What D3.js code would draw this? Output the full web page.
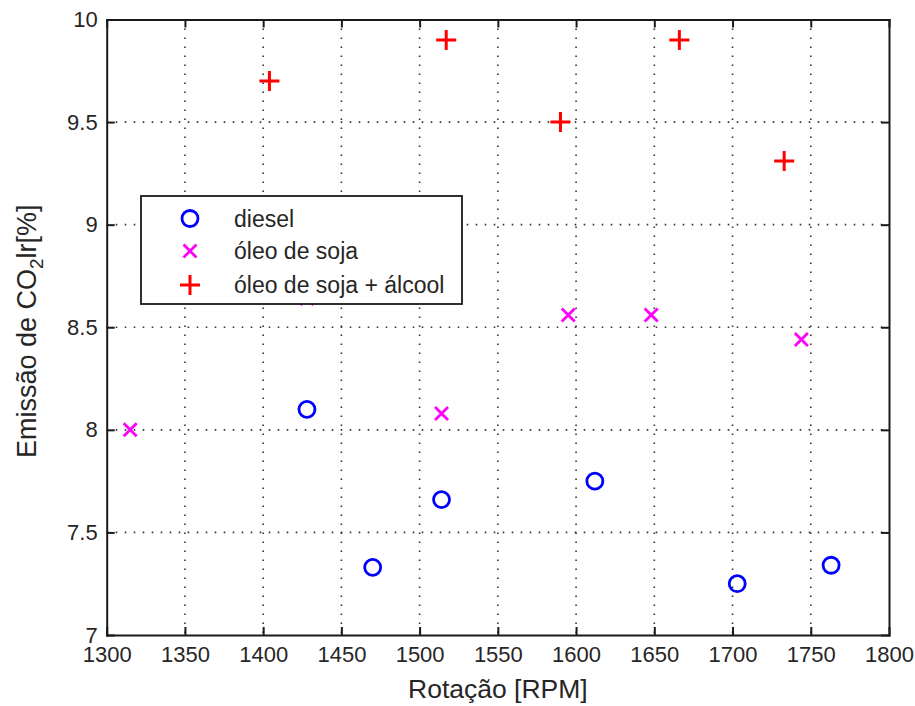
<!DOCTYPE html>
<html>
<head>
<meta charset="utf-8">
<script src="https://cdn.jsdelivr.net/npm/d3@7/dist/d3.min.js"></script>
<style>
  html, body { margin: 0; padding: 0; background: #fff; }
  svg { display: block; font-family: "Liberation Sans", Arial, sans-serif; }
  .axis text { fill: #262626; font-size: 22px; }
  .axis path, .axis line { stroke: #1a1a1a; stroke-width: 2; }
  .grid line { stroke: #333; stroke-width: 1.6; stroke-dasharray: 1.6 7.4; }
</style>
</head>
<body>
<svg id="chart" width="915" height="706"></svg>
<script>
// Rotação do motor [RPM] e emissão de CO2 [%] por combustível
const dieselRPM = [1428, 1470, 1514, 1612, 1703, 1763];
const dieselCO2 = [8.10, 7.33, 7.66, 7.75, 7.25, 7.34];

const sojaRPM = [1315, 1428, 1514, 1595, 1648, 1744];
const sojaCO2 = [8.00, 8.64, 8.08, 8.56, 8.56, 8.44];

const sojaAlcoolRPM = [1404, 1517, 1590, 1666, 1733];
const sojaAlcoolCO2 = [9.70, 9.90, 9.50, 9.90, 9.31];

const xTicks = [1300, 1350, 1400, 1450, 1500, 1550, 1600, 1650, 1700, 1750, 1800];
const yTicks = [7, 7.5, 8, 8.5, 9, 9.5, 10];

const seriesNames = ["diesel", "óleo de soja", "óleo de soja + álcool"];
const seriesColors = ["#0000ff", "#ff00ff", "#ff0000"];
const seriesMarkers = ["circle", "x", "plus"];

const xLabel = "Rotação [RPM]";

const svg = d3.select("#chart");
const margin = { left: 106.7, right: 26, top: 19.5, bottom: 71 };
const W = 915, H = 706;
const iw = W - margin.left - margin.right;
const ih = H - margin.top - margin.bottom;

const x = d3.scaleLinear().domain([1300, 1800]).range([0, iw]);
const y = d3.scaleLinear().domain([7, 10]).range([ih, 0]);

const g = svg.append("g").attr("transform", `translate(${margin.left},${margin.top})`);

// dotted grid
g.append("g").attr("class", "grid")
  .selectAll("line.v").data(xTicks.slice(1, -1)).join("line")
  .attr("x1", d => x(d)).attr("x2", d => x(d))
  .attr("y1", 0).attr("y2", ih);
g.append("g").attr("class", "grid")
  .selectAll("line.h").data(yTicks.slice(1, -1)).join("line")
  .attr("y1", d => y(d)).attr("y2", d => y(d))
  .attr("x1", 0).attr("x2", iw);

// axes with inward ticks on all four sides
const fmt = d => String(d);
g.append("g").attr("class", "axis").attr("transform", `translate(0,${ih})`)
  .call(d3.axisBottom(x).tickValues(xTicks).tickFormat(fmt).tickSizeInner(-8).tickSizeOuter(0).tickPadding(11));
g.append("g").attr("class", "axis")
  .call(d3.axisTop(x).tickValues(xTicks).tickFormat("").tickSizeInner(-8).tickSizeOuter(0));
g.append("g").attr("class", "axis")
  .call(d3.axisLeft(y).tickValues(yTicks).tickFormat(fmt).tickSizeInner(-8).tickSizeOuter(0).tickPadding(9));
g.append("g").attr("class", "axis").attr("transform", `translate(${iw},0)`)
  .call(d3.axisRight(y).tickValues(yTicks).tickFormat("").tickSizeInner(-8).tickSizeOuter(0));
g.selectAll(".axis .domain").attr("stroke-linecap", "square");

// marker drawing helpers
function drawMarker(sel, type, color) {
  if (type === "circle") {
    sel.append("circle").attr("r", 8).attr("fill", "none")
      .attr("stroke", color).attr("stroke-width", 2.8);
  } else if (type === "x") {
    sel.append("path").attr("d", "M-6.5,-6.5L6.5,6.5M-6.5,6.5L6.5,-6.5")
      .attr("fill", "none").attr("stroke", color).attr("stroke-width", 2.8);
  } else {
    sel.append("path").attr("d", "M-10,0H10M0,-10V10")
      .attr("fill", "none").attr("stroke", color).attr("stroke-width", 3);
  }
}

const series = [
  { rpm: dieselRPM, co2: dieselCO2 },
  { rpm: sojaRPM, co2: sojaCO2 },
  { rpm: sojaAlcoolRPM, co2: sojaAlcoolCO2 }
];

series.forEach((s, i) => {
  const pts = s.rpm.map((r, k) => ({ r, c: s.co2[k] }));
  g.append("g").selectAll("g").data(pts).join("g")
    .attr("transform", d => `translate(${x(d.r)},${y(d.c)})`)
    .each(function () { drawMarker(d3.select(this), seriesMarkers[i], seriesColors[i]); });
});

// legend
const lg = svg.append("g").attr("transform", "translate(141,196)");
lg.append("rect").attr("width", 321).attr("height", 108)
  .attr("fill", "#fff").attr("stroke", "#1a1a1a").attr("stroke-width", 1.8);
const rowsY = [22.5, 55, 89];
seriesNames.forEach((name, i) => {
  const row = lg.append("g").attr("transform", `translate(49,${rowsY[i]})`);
  drawMarker(row, seriesMarkers[i], seriesColors[i]);
  row.append("text").attr("x", 44).attr("dy", "0.36em")
    .attr("fill", "#262626").style("font-size", "23px").text(name);
});

// axis titles
svg.append("text")
  .attr("x", margin.left + iw / 2).attr("y", 698)
  .attr("text-anchor", "middle").attr("fill", "#262626")
  .style("font-size", "26.5px").text(xLabel);

const yl = svg.append("text")
  .attr("transform", `translate(36,${margin.top + ih / 2 + 4}) rotate(-90)`)
  .attr("text-anchor", "middle").attr("fill", "#262626")
  .style("font-size", "27px");
yl.append("tspan").text("Emissão de CO");
yl.append("tspan").attr("dy", 7).style("font-size", "19px").text("2");
yl.append("tspan").attr("dy", -7).text("lr[%]");
</script>
</body>
</html>
